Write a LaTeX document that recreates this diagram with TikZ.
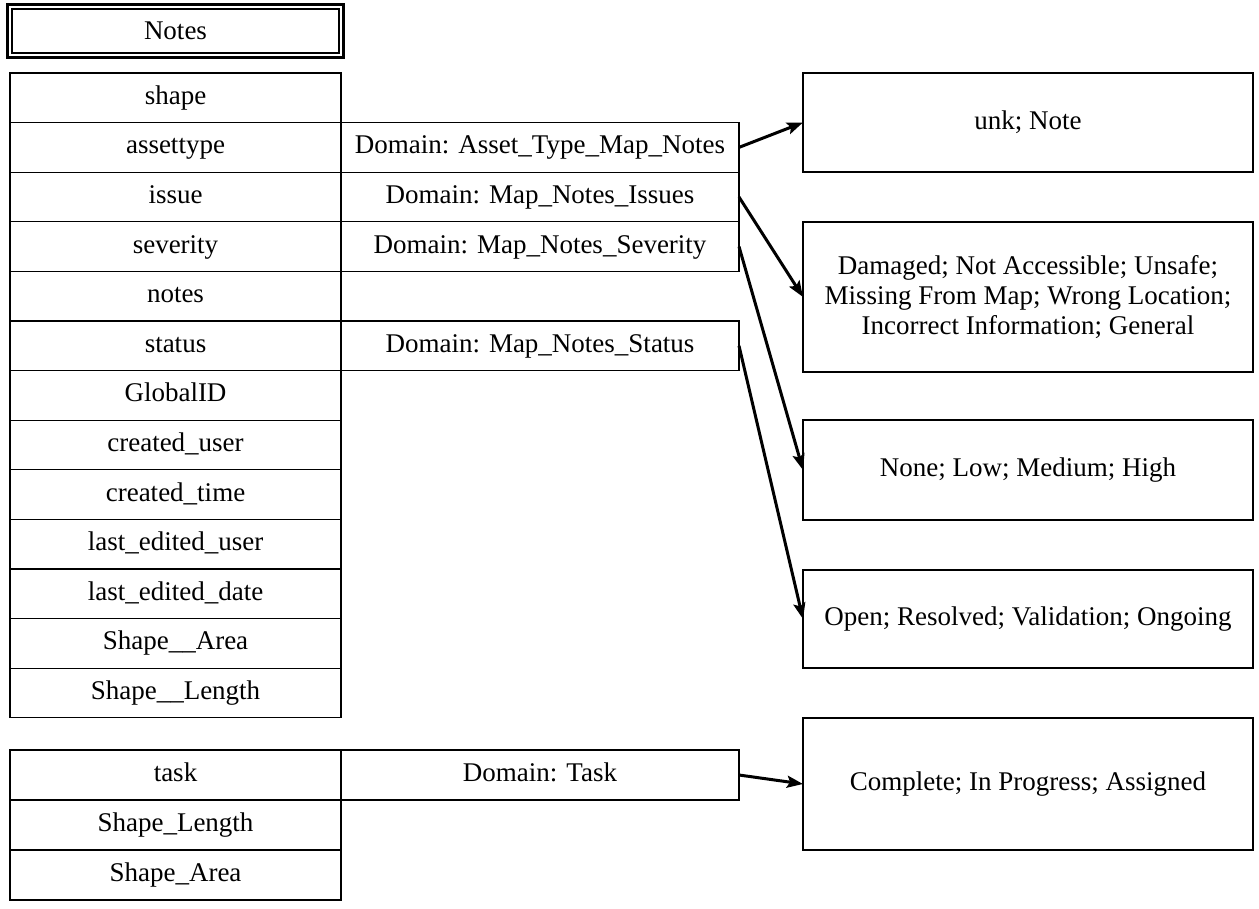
\documentclass[tikz,border=0pt]{standalone}
\usepackage{fontspec}
\setmainfont{Liberation Serif}
\usetikzlibrary{arrows.meta,positioning}

\begin{document}
\begin{tikzpicture}[x=1pt,y=-1pt,font=\fontsize{27}{30}\selectfont]
\tikzstyle{cellbox}=[rectangle,draw=black,line width=1.3pt,
inner sep=0pt,outer sep=0pt,minimum height=49.6pt,
text height=19pt,text depth=6pt]
\tikzstyle{fieldbox}=[cellbox,minimum width=331pt]
\tikzstyle{domainbox}=[cellbox,minimum width=398pt]
\tikzstyle{valuebox}=[rectangle,draw=black,line width=1.5pt,inner sep=0pt,
outer sep=0pt,minimum width=450pt,align=center]
\tikzstyle{linkarrow}=[line width=3pt,-{Stealth[length=16pt,width=12pt,inset=3pt]}]

\useasboundingbox (0,0) rectangle (1259,909);

% title
\node[rectangle,draw=black,line width=1.2pt,minimum width=327pt,
minimum height=44pt,inner sep=0pt] at (175.5,31) (title) {Notes};
\draw[line width=3.2pt] ([xshift=-4pt,yshift=4pt]title.north west)
 rectangle ([xshift=4pt,yshift=-4pt]title.south east);

% fields of the feature class
\foreach \name [count=\i from 0] in {shape,assettype,issue,severity,notes,
 status,GlobalID,created\_user,created\_time,last\_edited\_user,
 last\_edited\_date,Shape\_\_Area,Shape\_\_Length}
 \node[fieldbox] at (175.5,97.8+49.6*\i) (f\i) {\name};

\node[domainbox,right=0pt of f1] (dAsset) {Domain: Asset\_Type\_Map\_Notes};
\node[domainbox,right=0pt of f2] (dIssue) {Domain: Map\_Notes\_Issues};
\node[domainbox,right=0pt of f3] (dSeverity) {Domain: Map\_Notes\_Severity};
\node[domainbox,right=0pt of f5] (dStatus) {Domain: Map\_Notes\_Status};

% coded values
\node[valuebox,minimum height=99pt] at (1028,122.5) (vAsset) {unk; Note};
\node[valuebox,minimum height=150pt] at (1028,297) (vIssue)
 {Damaged; Not Accessible; Unsafe;\\Missing From Map; Wrong Location;\\Incorrect Information; General};
\node[valuebox,minimum height=100pt] at (1028,470) (vSeverity) {None; Low; Medium; High};
\node[valuebox,minimum height=98pt] at (1028,619) (vStatus) {Open; Resolved; Validation; Ongoing};

% related table
\node[fieldbox,minimum height=50pt] at (175.5,775) (t0) {task};
\node[fieldbox,minimum height=50pt,below=0pt of t0] (t1) {Shape\_Length};
\node[fieldbox,minimum height=50pt,below=0pt of t1] (t2) {Shape\_Area};
\node[domainbox,minimum height=50pt,right=0pt of t0] (dTask) {Domain: Task};
\node[valuebox,minimum height=132pt] at (1028,784) (vTask) {Complete; In Progress; Assigned};

\draw[linkarrow] (dAsset.east) -- (vAsset.west);
\draw[linkarrow] (dIssue.east) -- (vIssue.west);
\draw[linkarrow] (dSeverity.east) -- (vSeverity.west);
\draw[linkarrow] (dStatus.east) -- (vStatus.west);
\draw[linkarrow] (dTask.east) -- (vTask.west);

\end{tikzpicture}
\end{document}
